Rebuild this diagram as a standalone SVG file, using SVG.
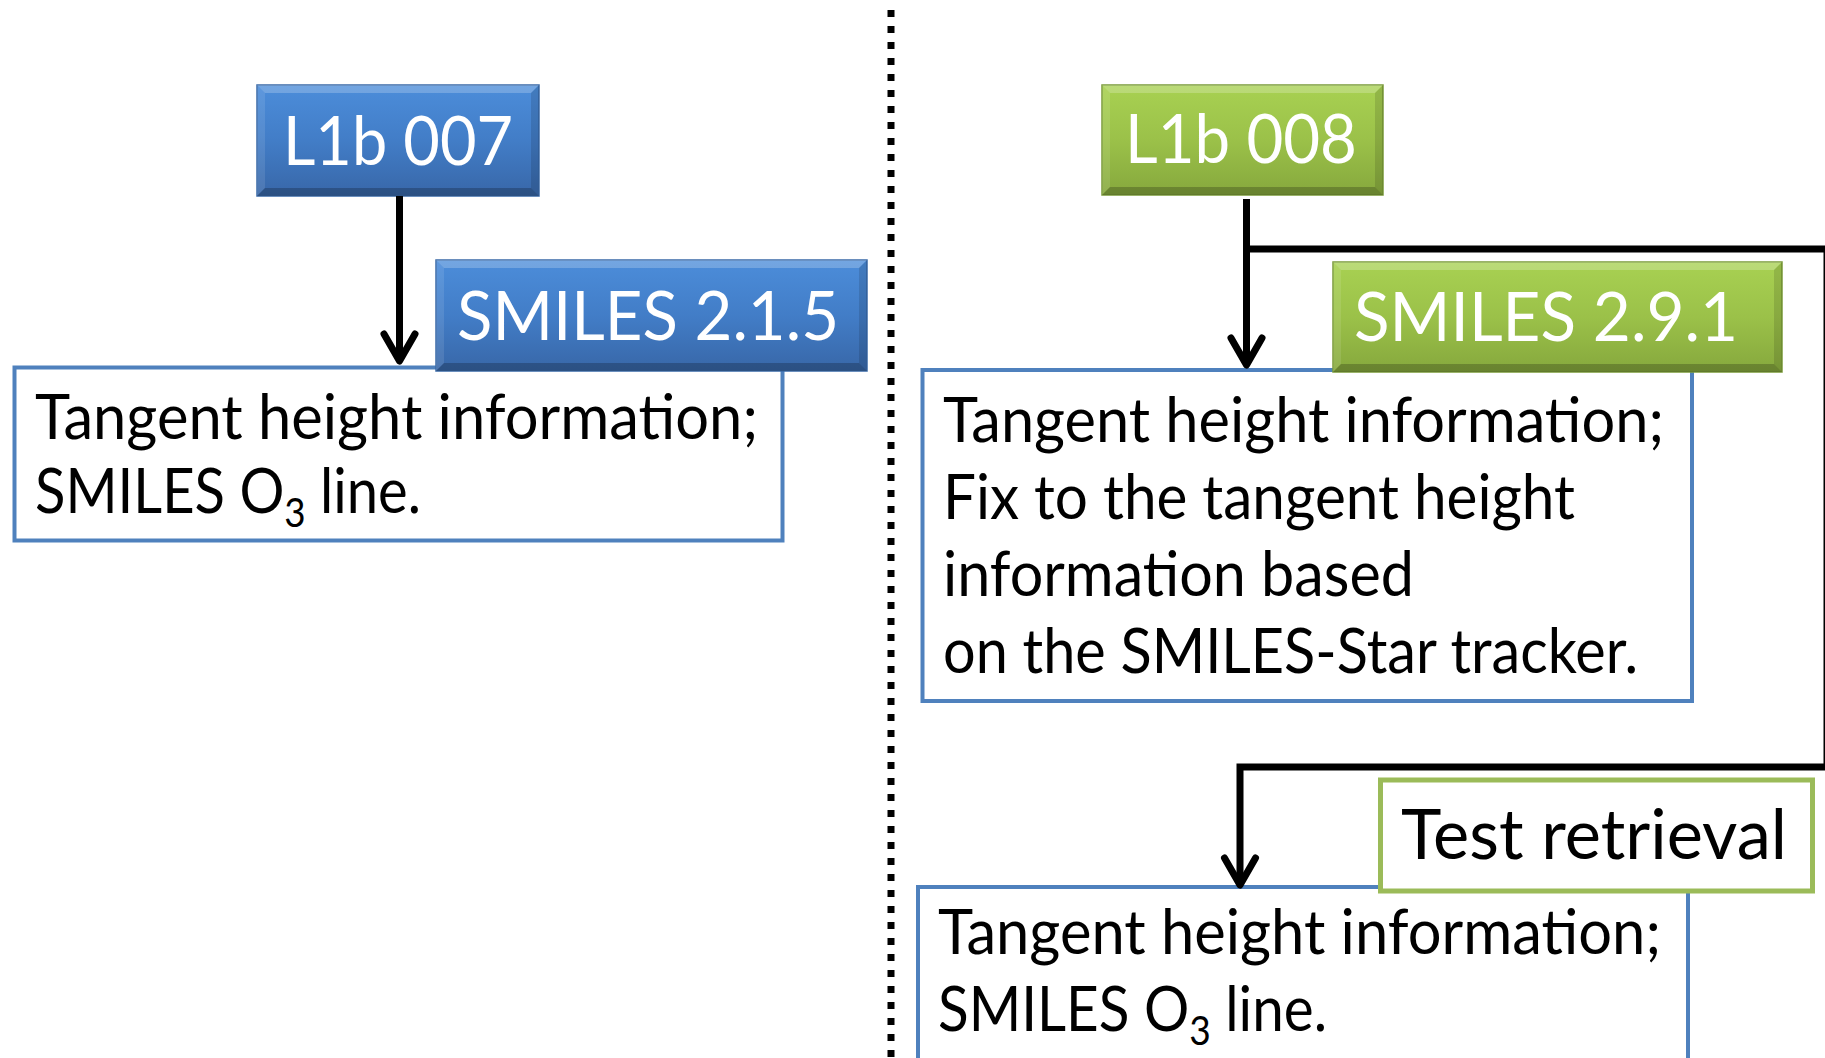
<svg xmlns="http://www.w3.org/2000/svg" width="1825" height="1058" viewBox="0 0 1825 1058">
  <defs>
    <linearGradient id="gBlue" x1="0" y1="0" x2="0" y2="1">
      <stop offset="0" stop-color="#4C8DDA"/>
      <stop offset="0.5" stop-color="#427DC7"/>
      <stop offset="1" stop-color="#3867A8"/>
    </linearGradient>
    <linearGradient id="gGreen" x1="0" y1="0" x2="0" y2="1">
      <stop offset="0" stop-color="#A8D152"/>
      <stop offset="0.5" stop-color="#9BC149"/>
      <stop offset="1" stop-color="#86A83D"/>
    </linearGradient>
    <marker id="arrow" markerUnits="userSpaceOnUse" viewBox="-40 -25 50 50" markerWidth="50" markerHeight="50" refX="0" refY="0" orient="auto" overflow="visible">
      <path d="M -27 -15.5 L 0 0 L -27 15.5" fill="none" stroke="#000" stroke-width="7" stroke-linecap="round" stroke-linejoin="round"/>
    </marker>
  </defs>
  <style>
    .lbl { font-family: Lato, "Liberation Sans", sans-serif; fill: #fff; font-size: 68px; }
    .txt { font-family: Lato, "Liberation Sans", sans-serif; fill: #000; font-size: 61px; }
    .big { font-family: Lato, "Liberation Sans", sans-serif; fill: #000; font-size: 70px; }
    .sub { font-size: 40px; }
    .box { fill: #fff; stroke: #4F81BD; stroke-width: 4; }
    .tbox { fill: #fff; stroke: #9BBB59; stroke-width: 5; }
    .blue { fill: url(#gBlue); stroke: #3A6AA8; stroke-width: 1.5; }
    .green { fill: url(#gGreen); stroke: #7A9A38; stroke-width: 1.5; }
    .hl { fill: #fff; opacity: 0.22; }
    .hl2 { fill: #fff; opacity: 0.1; }
    .sh { fill: #000; opacity: 0.12; }
    .sh2 { fill: #000; opacity: 0.22; }
    .conn { fill: none; stroke: #000; stroke-width: 7; stroke-linejoin: miter; }
    .div { stroke: #000; stroke-width: 7; stroke-dasharray: 7 9; }
  </style>

  <line class="div" x1="891" y1="10" x2="891" y2="1058"/>

  <g id="box1">
    <rect class="box" x="14.5" y="367.5" width="768" height="173"/>
    <text class="txt" x="35" y="439" textLength="723" lengthAdjust="spacingAndGlyphs">Tangent height information;</text>
    <text class="txt" x="35" y="513" textLength="386" lengthAdjust="spacingAndGlyphs">SMILES O<tspan class="sub" dy="14">3</tspan><tspan dy="-14"> line.</tspan></text>
  </g>

  <g id="l1b007">
    <rect class="blue" x="257" y="85" width="282" height="111"/>
    <polygon class="hl" points="257,85 539,85 531,93 265,93"/>
    <polygon class="hl2" points="257,85 265,93 265,188 257,196"/>
    <polygon class="sh" points="539,85 539,196 531,188 531,93"/>
    <polygon class="sh2" points="257,196 265,188 531,188 539,196"/>
    <text class="lbl" x="283" y="165" textLength="230" lengthAdjust="spacingAndGlyphs">L1b 007</text>
  </g>

  <g id="smiles215">
    <rect class="blue" x="436" y="260" width="431" height="111"/>
    <polygon class="hl" points="436,260 867,260 859,268 444,268"/>
    <polygon class="hl2" points="436,260 444,268 444,363 436,371"/>
    <polygon class="sh" points="867,260 867,371 859,363 859,268"/>
    <polygon class="sh2" points="436,371 444,363 859,363 867,371"/>
    <text class="lbl" x="457" y="340" textLength="382" lengthAdjust="spacingAndGlyphs">SMILES 2.1.5</text>
  </g>

  <g id="box2">
    <rect class="box" x="922.5" y="370" width="769.5" height="331"/>
    <text class="txt" x="943" y="442" textLength="721" lengthAdjust="spacingAndGlyphs">Tangent height information;</text>
    <text class="txt" x="943" y="519" textLength="632" lengthAdjust="spacingAndGlyphs">Fix to the tangent height</text>
    <text class="txt" x="943" y="596" textLength="471" lengthAdjust="spacingAndGlyphs">information based</text>
    <text class="txt" x="943" y="673" textLength="695" lengthAdjust="spacingAndGlyphs">on the SMILES-Star tracker.</text>
  </g>

  <g id="l1b008">
    <rect class="green" x="1102" y="85" width="281" height="110"/>
    <polygon class="hl" points="1102,85 1383,85 1375,93 1110,93"/>
    <polygon class="hl2" points="1102,85 1110,93 1110,187 1102,195"/>
    <polygon class="sh" points="1383,85 1383,195 1375,187 1375,93"/>
    <polygon class="sh2" points="1102,195 1110,187 1375,187 1383,195"/>
    <text class="lbl" x="1125" y="163" textLength="232" lengthAdjust="spacingAndGlyphs">L1b 008</text>
  </g>

  <g id="smiles291">
    <rect class="green" x="1333" y="262" width="449" height="110"/>
    <polygon class="hl" points="1333,262 1782,262 1774,270 1341,270"/>
    <polygon class="hl2" points="1333,262 1341,270 1341,364 1333,372"/>
    <polygon class="sh" points="1782,262 1782,372 1774,364 1774,270"/>
    <polygon class="sh2" points="1333,372 1341,364 1774,364 1782,372"/>
    <text class="lbl" x="1354" y="341" textLength="384" lengthAdjust="spacingAndGlyphs">SMILES 2.9.1</text>
  </g>

  <g id="box3">
    <rect class="box" x="918" y="887" width="770" height="200"/>
    <text class="txt" x="938" y="954" textLength="723" lengthAdjust="spacingAndGlyphs">Tangent height information;</text>
    <text class="txt" x="938" y="1031" textLength="389" lengthAdjust="spacingAndGlyphs">SMILES O<tspan class="sub" dy="14">3</tspan><tspan dy="-14"> line.</tspan></text>
  </g>

  <g id="test">
    <rect class="tbox" x="1380.5" y="780" width="432" height="111"/>
    <text class="big" x="1401" y="859" textLength="386" lengthAdjust="spacingAndGlyphs">Test retrieval</text>
  </g>

  <g id="connectors">
    <path class="conn" d="M399.5 196 V361" marker-end="url(#arrow)"/>
    <path class="conn" d="M1246.5 199 V365" marker-end="url(#arrow)"/>
    <path class="conn" d="M1246.5 249 H1827 V767 H1240 V885" marker-end="url(#arrow)"/>
  </g>
</svg>
